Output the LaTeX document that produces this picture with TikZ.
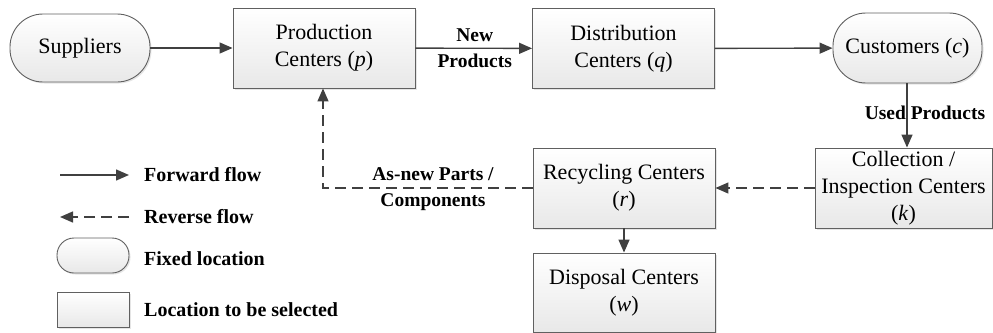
\documentclass[tikz,border=0pt]{standalone}
\usepackage{fontspec}
\setmainfont{Liberation Serif}
\usetikzlibrary{arrows.meta,shadows,positioning}
\definecolor{lc}{HTML}{404040}
\definecolor{bc}{HTML}{606060}
\tikzset{
  base/.style={draw=bc, line width=0.9pt, top color=white, bottom color=black!9,
    drop shadow={shadow xshift=1.5pt, shadow yshift=-1.5pt, fill=black!20, opacity=0.5},
    align=center, inner sep=0pt, font=\fontsize{22}{27}\selectfont},
  boxnode/.style={base, rectangle, minimum width=182pt, minimum height=80pt},
  roundnode/.style={base, rectangle, rounded corners=33pt},
  fwd/.style={draw=lc, line width=1.4pt, -{Triangle[length=13pt,width=11pt]}},
  rev/.style={draw=lc, line width=1.4pt, dash pattern=on 11pt off 6pt, -{Triangle[length=13pt,width=11pt]}},
  lbl/.style={font=\bfseries\fontsize{19.5}{26}\selectfont, align=center, inner sep=0pt, text=black},
  leg/.style={font=\bfseries\fontsize{20}{24}\selectfont, anchor=west, inner sep=0pt, text=black}
}
\begin{document}
\begin{tikzpicture}[x=1pt,y=-1pt]
\useasboundingbox (0,0) rectangle (993,332);
% main nodes
\node[roundnode, minimum width=140pt, minimum height=68pt] (sup) at (80,48) {Suppliers};
\node[boxnode] (prod) at (324,48) {Production\\Centers (\textit{p})};
\node[boxnode] (dist) at (623.5,48.5) {Distribution\\Centers (\textit{q})};
\node[roundnode, minimum width=149pt, minimum height=70pt] (cust) at (907.5,48) {Customers (\textit{c})};
\node[boxnode, minimum width=177pt] (coll) at (903.5,188) {Collection /\\Inspection Centers\\(\textit{k})};
\node[boxnode] (rec) at (624,188) {Recycling Centers\\(\textit{r})};
\node[boxnode, minimum height=79pt] (disp) at (624,292.5) {Disposal Centers\\(\textit{w})};
% connectors
\draw[fwd] (sup) -- (prod);
\draw[fwd] (prod) -- node[lbl, xshift=1pt]{New\\Products} (dist);
\draw[fwd] (dist) -- (cust);
\draw[fwd] (cust.south -| 907,0) -- (907,0 |- coll.north);
\node[lbl] (used) at (925,113) {Used Products};
\draw[rev] (coll.west) -- (rec.east);
\coordinate (corner) at (323,188);
\draw[rev] (rec.west) -- (corner) -- (corner |- prod.south);
\node[lbl] (asnew) at (433,189) {As-new Parts /\\Components};
\draw[fwd] (rec.south) -- (disp.north);
% legend
\coordinate (f1) at (60,175); \coordinate (f2) at (129,175);
\draw[fwd] (f1) -- (f2);
\node[leg] (lf) at (144,175) {Forward flow};
\coordinate (r1) at (60,217); \coordinate (r2) at (129,217);
\draw[rev] (r2) -- (r1);
\node[leg] (lr) at (144,217) {Reverse flow};
\node[base, rectangle, rounded corners=17pt, minimum width=72pt, minimum height=35pt] (lfix) at (93,255.5) {};
\node[leg] (lfx) at (144,259) {Fixed location};
\node[base, rectangle, minimum width=72pt, minimum height=35pt] (lsel) at (93,309.5) {};
\node[leg] (lsl) at (144,310) {Location to be selected};
\end{tikzpicture}
\end{document}
